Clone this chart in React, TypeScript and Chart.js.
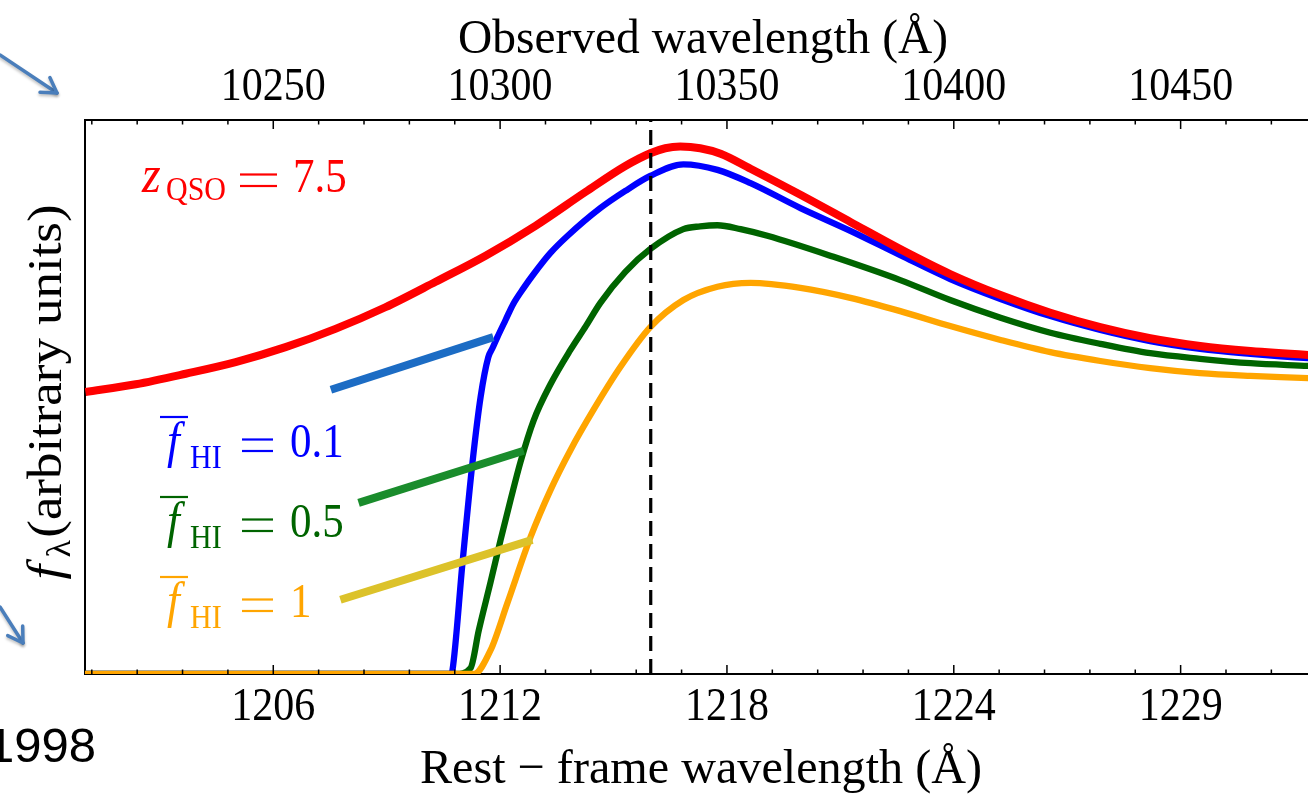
import React, { useEffect, useRef } from "react";
import { Chart, registerables } from "chart.js";
Chart.register(...registerables);

// ---- axis ranges (observed-frame wavelength, Angstrom) ----
const X_MIN = 10208.5;
const X_MAX = 10480.5;
const Y_MIN = 0;
const Y_MAX = 1;
const LYA_OBS = 10333.2;

// ---- tick labels ----
const topTickValues = [10250, 10300, 10350, 10400, 10450];
const restTickLabels = ["1206", "1212", "1218", "1224", "1229"];

// ---- intrinsic quasar spectrum (red) ----
const intrinsicWave = [10208.6, 10219.7, 10230.7, 10241.7, 10252.7, 10263.7, 10274.7, 10285.8, 10296.8, 10307.8, 10318.8, 10327.6, 10333.1, 10336.4, 10339.7, 10344.1, 10348.6, 10355.2, 10366.2, 10377.2, 10388.2, 10399.2, 10410.3, 10421.3, 10432.3, 10443.3, 10454.3, 10465.4, 10478.1, 10480.5];
const intrinsicFlux = [0.509, 0.523, 0.542, 0.563, 0.59, 0.623, 0.662, 0.708, 0.755, 0.809, 0.87, 0.917, 0.94, 0.949, 0.952, 0.949, 0.939, 0.912, 0.865, 0.816, 0.767, 0.722, 0.684, 0.652, 0.626, 0.606, 0.592, 0.583, 0.576, 0.575];

// ---- f_HI = 0.1 (blue) ----
const fHI01Wave = [10208.5, 10289.1, 10289.5, 10291.7, 10293.9, 10295.7, 10297.4, 10298.3, 10299.4, 10301.2, 10302.9, 10305.2, 10307.4, 10311.1, 10314.9, 10322.1, 10327.6, 10333.1, 10340.4, 10347.9, 10355.2, 10366.2, 10377.2, 10388.2, 10399.2, 10410.3, 10421.3, 10432.3, 10443.3, 10454.3, 10465.4, 10478.1, 10480.5];
const fHI01Flux = [0, 0, 0.007, 0.2, 0.381, 0.5, 0.572, 0.588, 0.608, 0.639, 0.668, 0.697, 0.722, 0.76, 0.791, 0.841, 0.872, 0.899, 0.92, 0.91, 0.886, 0.841, 0.8, 0.756, 0.713, 0.677, 0.646, 0.621, 0.601, 0.587, 0.578, 0.57, 0.569];

// ---- f_HI = 0.5 (green) ----
const fHI05Wave = [10208.5, 10290.2, 10293.5, 10295.3, 10297.9, 10300.1, 10302.3, 10304.5, 10307.4, 10311.1, 10315.5, 10318.9, 10322.1, 10327.6, 10333.1, 10340.4, 10344.1, 10347.9, 10353.0, 10358.9, 10373.5, 10388.2, 10399.2, 10410.3, 10421.3, 10432.3, 10443.3, 10454.3, 10465.4, 10478.1, 10480.5];
const fHI05Flux = [0, 0, 0.011, 0.079, 0.166, 0.242, 0.314, 0.383, 0.458, 0.523, 0.585, 0.628, 0.67, 0.726, 0.767, 0.803, 0.808, 0.81, 0.803, 0.791, 0.753, 0.711, 0.675, 0.643, 0.616, 0.596, 0.579, 0.569, 0.561, 0.556, 0.555];

// ---- f_HI = 1 (orange) ----
const fHI1Wave = [10208.5, 10294.2, 10297.9, 10301.6, 10306.7, 10311.1, 10315.5, 10320.6, 10326.5, 10333.1, 10340.4, 10347.9, 10355.2, 10366.2, 10377.2, 10388.2, 10399.2, 10410.3, 10421.3, 10432.3, 10443.3, 10454.3, 10465.4, 10478.1, 10480.5];
const fHI1Flux = [0, 0, 0.043, 0.128, 0.247, 0.332, 0.404, 0.477, 0.554, 0.626, 0.675, 0.699, 0.706, 0.697, 0.679, 0.655, 0.628, 0.603, 0.581, 0.565, 0.552, 0.543, 0.538, 0.534, 0.533];

// ---- hand-drawn pointer strokes ----
const blueMarkWave = [10262.7, 10298.5];
const blueMarkFlux = [0.513, 0.608];
const greenMarkWave = [10268.8, 10305.2];
const greenMarkFlux = [0.309, 0.403];
const yellowMarkWave = [10264.8, 10307.1];
const yellowMarkFlux = [0.134, 0.242];

// ---- Ly-alpha marker ----
const lyaWave = [LYA_OBS, LYA_OBS];
const lyaFlux = [Y_MIN, Y_MAX];

const SERIF = '"Liberation Serif", "Times New Roman", serif';
const SY = 1.12;

const pts = (xs: number[], ys: number[]) => xs.map((x, i) => ({ x, y: ys[i] }));

function drawText(
  ctx: CanvasRenderingContext2D,
  s: string,
  x: number,
  y: number,
  size: number,
  color: string,
  o: { align?: CanvasTextAlign; italic?: boolean; width?: number; sy?: number; family?: string } = {}
) {
  const { align = "left", italic = false, width, sy = SY, family = SERIF } = o;
  ctx.save();
  ctx.font = `${italic ? "italic " : ""}${size}px ${family}`;
  ctx.fillStyle = color;
  ctx.textAlign = align;
  ctx.textBaseline = "alphabetic";
  ctx.translate(x, y);
  const sx = width ? width / ctx.measureText(s).width : 1;
  ctx.scale(sx, sy);
  ctx.fillText(s, 0, 0);
  ctx.restore();
}

function bar(ctx: CanvasRenderingContext2D, x1: number, x2: number, y: number, color: string, w = 2.2) {
  ctx.fillStyle = color;
  ctx.fillRect(x1, y - w / 2, x2 - x1, w);
}

function equals(ctx: CanvasRenderingContext2D, x1: number, x2: number, base: number, color: string) {
  bar(ctx, x1, x2, base - 17.5, color);
  bar(ctx, x1, x2, base - 6, color);
}

function arrow(ctx: CanvasRenderingContext2D, x1: number, y1: number, x2: number, y2: number) {
  ctx.save();
  ctx.strokeStyle = "#4a7ebb";
  ctx.lineWidth = 3.5;
  ctx.lineCap = "round";
  ctx.lineJoin = "round";
  ctx.shadowColor = "rgba(0,0,0,0.25)";
  ctx.shadowBlur = 3;
  ctx.shadowOffsetY = 2;
  ctx.beginPath();
  ctx.moveTo(x1, y1);
  ctx.lineTo(x2, y2);
  ctx.stroke();
  const a = Math.atan2(y2 - y1, x2 - x1);
  const L = 17;
  const sp = 0.55;
  ctx.beginPath();
  ctx.moveTo(x2 - L * Math.cos(a - sp), y2 - L * Math.sin(a - sp));
  ctx.lineTo(x2, y2);
  ctx.lineTo(x2 - L * Math.cos(a + sp), y2 - L * Math.sin(a + sp));
  ctx.stroke();
  ctx.restore();
}

const decorPlugin = {
  id: "decor",
  afterDatasetsDraw(chart: any) {
    const ctx: CanvasRenderingContext2D = chart.ctx;
    const { top, bottom } = chart.chartArea;
    const xs = chart.scales.x;
    ctx.save();
    ctx.strokeStyle = "#000";
    ctx.lineWidth = 1.5;
    for (const t of xs.ticks) {
      const px = xs.getPixelForValue(t.value);
      const major = Math.abs(t.value % 50) < 1e-6;
      const len = major ? 9 : 4.5;
      ctx.beginPath();
      ctx.moveTo(px, bottom);
      ctx.lineTo(px, bottom - len);
      ctx.moveTo(px, top);
      ctx.lineTo(px, top + len);
      ctx.stroke();
    }
    ctx.restore();
  },
  afterDraw(chart: any) {
    const ctx: CanvasRenderingContext2D = chart.ctx;
    const xs = chart.scales.x;

    // tick labels
    topTickValues.forEach((v, i) => {
      const px = xs.getPixelForValue(v);
      drawText(ctx, String(v), px, 100, 42, "#000", { align: "center" });
      drawText(ctx, restTickLabels[i], px, 720, 42, "#000", { align: "center" });
    });

    // axis titles
    drawText(ctx, "Observed wavelength (Å)", 703, 53, 44, "#000", { align: "center", width: 490 });
    drawText(ctx, "Rest − frame wavelength (Å)", 701, 783, 44, "#000", { align: "center", width: 562 });

    // y title (rotated)
    ctx.save();
    ctx.translate(61, 392);
    ctx.rotate(-Math.PI / 2);
    ctx.fillStyle = "#000";
    ctx.textBaseline = "alphabetic";
    ctx.textAlign = "left";
    ctx.font = `italic 44px ${SERIF}`;
    const wf = ctx.measureText("f").width + 6;
    ctx.font = `30px ${SERIF}`;
    const wl = ctx.measureText("λ").width + 2;
    ctx.font = `44px ${SERIF}`;
    const wm = ctx.measureText("(arbitrary units)").width;
    const W = wf + wl + wm;
    const k = 375 / W;
    ctx.scale(k, SY);
    ctx.font = `italic 44px ${SERIF}`;
    ctx.fillText("f", -W / 2, 0);
    ctx.font = `30px ${SERIF}`;
    ctx.fillText("λ", -W / 2 + wf, 8);
    ctx.font = `44px ${SERIF}`;
    ctx.fillText("(arbitrary units)", -W / 2 + wf + wl, 0);
    ctx.restore();

    // z_QSO label
    const red = "#ff0000";
    drawText(ctx, "z", 142, 192, 48, red, { italic: true });
    drawText(ctx, "QSO", 166, 200, 30, red);
    equals(ctx, 240, 277, 192, red);
    drawText(ctx, "7.5", 293, 192, 43, red);

    // f_HI labels
    const labels: [string, string, number][] = [
      ["0.1", "#0000ff", 457],
      ["0.5", "#006400", 537],
      ["1", "#ffa500", 617],
    ];
    for (const [val, col, b] of labels) {
      bar(ctx, 160, 188, b - 40, col);
      drawText(ctx, "f", 167, b, 46, col, { italic: true });
      drawText(ctx, "HI", 190, b + 11, 30, col);
      equals(ctx, 242, 273, b, col);
      drawText(ctx, val, 290, b, 43, col);
    }

    // slide annotations
    arrow(ctx, 0, 55, 57, 93);
    arrow(ctx, 0, 607, 23, 643);
    drawText(ctx, "1998", -13, 762, 49, "#000", { sy: 1, family: '"Liberation Sans", Arial, sans-serif' });
  },
};

export default function App() {
  const ref = useRef<HTMLCanvasElement | null>(null);
  useEffect(() => {
    if (!ref.current) return;
    const line = (data: any, color: string, width: number, order: number, extra: any = {}) => ({
      data,
      borderColor: color,
      backgroundColor: color,
      borderWidth: width,
      pointRadius: 0,
      fill: false,
      order,
      cubicInterpolationMode: "monotone",
      borderJoinStyle: "round",
      ...extra,
    });
    const chart = new Chart(ref.current, {
      type: "line",
      data: {
        datasets: [
          line(pts(lyaWave, lyaFlux), "#000", 3.2, 0, { borderDash: [15, 8], cubicInterpolationMode: "default" }),
          line(pts(blueMarkWave, blueMarkFlux), "#1c6cc4", 8, 1, { cubicInterpolationMode: "default" }),
          line(pts(greenMarkWave, greenMarkFlux), "#1a8c2c", 8, 1, { cubicInterpolationMode: "default" }),
          line(pts(yellowMarkWave, yellowMarkFlux), "#dcc22a", 8, 1, { cubicInterpolationMode: "default" }),
          line(pts(intrinsicWave, intrinsicFlux), "#ff0000", 8, 2),
          line(pts(fHI1Wave, fHI1Flux), "#ffa500", 6.3, 3),
          line(pts(fHI05Wave, fHI05Flux), "#006400", 6.3, 4),
          line(pts(fHI01Wave, fHI01Flux), "#0000ff", 6.3, 5),
        ],
      },
      options: {
        responsive: false,
        animation: false,
        events: [],
        layout: { padding: { left: 0, right: 11, top: 0, bottom: 0 } },
        plugins: { legend: { display: false }, tooltip: { enabled: false } },
        scales: {
          x: {
            type: "linear",
            position: "bottom",
            min: X_MIN,
            max: X_MAX,
            ticks: { display: false, stepSize: 10, includeBounds: false },
            grid: { display: false, drawTicks: false },
            border: { display: true, color: "#000", width: 2 },
            afterFit: (s: any) => {
              s.height = 121;
            },
          },
          x2: {
            type: "linear",
            position: "top",
            min: X_MIN,
            max: X_MAX,
            ticks: { display: false, stepSize: 10, includeBounds: false },
            grid: { display: false, drawTicks: false },
            border: { display: true, color: "#000", width: 2 },
            afterFit: (s: any) => {
              s.height = 120;
            },
          },
          y: {
            type: "linear",
            min: Y_MIN,
            max: Y_MAX,
            ticks: { display: false },
            grid: { display: false, drawTicks: false },
            border: { display: true, color: "#000", width: 2 },
            afterFit: (s: any) => {
              s.width = 85;
            },
          },
        },
      } as any,
      plugins: [decorPlugin],
    });
    return () => chart.destroy();
  }, []);
  return (
    <div style={{ position: "fixed", left: 0, top: 0, width: 1308, height: 795, overflow: "hidden", background: "#fff" }}>
      <canvas ref={ref} width={1330} height={795} style={{ position: "absolute", left: 0, top: 0, width: 1330, height: 795 }} />
    </div>
  );
}
